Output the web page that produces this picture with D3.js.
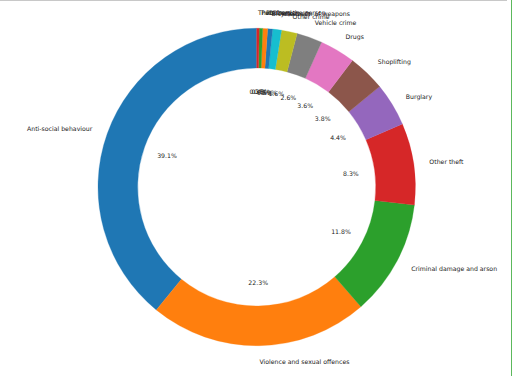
<!DOCTYPE html>
<html>
<head>
<meta charset="utf-8">
<script src="https://cdn.jsdelivr.net/npm/d3@7"></script>
<style>
  html, body { margin: 0; padding: 0; background: #fff; }
  svg { display: block; }
  text { font-family: "DejaVu Sans", sans-serif; font-size: 6.2px; fill: #222; }
</style>
</head>
<body>
<div id="chart"></div>
<script>
// crime categories, in the order they are plotted (from 12 o'clock, counter-clockwise)
var categories = [
  "Anti-social behaviour", "Violence and sexual offences", "Criminal damage and arson",
  "Other theft", "Burglary", "Shoplifting", "Drugs", "Vehicle crime", "Other crime",
  "Possession of weapons", "Bicycle theft", "Robbery", "Public order", "Theft from the person"
];
// share of all crimes, percent
var shares = [39.1, 22.3, 11.8, 8.3, 4.4, 3.8, 3.6, 2.6, 1.6, 0.9, 0.5, 0.5, 0.35, 0.25];
// matplotlib default cycle
var palette = ["#1f77b4", "#ff7f0e", "#2ca02c", "#d62728", "#9467bd",
               "#8c564b", "#e377c2", "#7f7f7f", "#bcbd22", "#17becf"];

var _width = 512, _height = 376;
var cx = 256.7, cy = 187, outerR = 158.7, innerR = outerR * 0.75;

var svg = d3.select("#chart").append("svg")
  .attr("width", _width)
  .attr("height", _height);

// screenshot frame: grey line along the top, green one down the right
svg.append("line").attr("x1", 0).attr("x2", 507).attr("y1", 0.5).attr("y2", 0.5)
  .attr("stroke", "#c8c8c8").attr("stroke-width", 1);
svg.append("line").attr("x1", 511.5).attr("x2", 511.5).attr("y1", 0).attr("y2", _height)
  .attr("stroke", "#5cb85c").attr("stroke-width", 1);

var data = categories.map(function(c, i) { return {name: c, value: shares[i]}; });
var total = d3.sum(shares);

var color = d3.scaleOrdinal().domain(d3.range(categories.length))
  .range(categories.map(function(c, i) { return palette[i % palette.length]; }));

// counter-clockwise from the top, like matplotlib's startangle=90
var pie = d3.pie().sort(null).value(function(d) { return d.value; })
  .startAngle(0).endAngle(-2 * Math.PI);
var arcs = pie(data);

var arc = d3.arc().innerRadius(innerR).outerRadius(outerR);

var g = svg.append("g").attr("transform", "translate(" + cx + "," + cy + ")");

g.selectAll("path.slice")
  .data(arcs)
  .enter().append("path")
  .attr("class", "slice")
  .attr("d", arc)
  .attr("fill", function(d, i) { return color(i); })
  .attr("stroke", function(d, i) { return color(i); })
  .attr("stroke-width", 0.3);

function mid(d) { return (d.startAngle + d.endAngle) / 2; }

// category labels at 1.1 r
g.selectAll("text.label")
  .data(arcs)
  .enter().append("text")
  .attr("class", "label")
  .attr("x", function(d) { return 1.1 * outerR * Math.sin(mid(d)); })
  .attr("y", function(d) { return -1.1 * outerR * Math.cos(mid(d)); })
  .attr("dominant-baseline", "central")
  .attr("text-anchor", function(d) { return Math.sin(mid(d)) > 0 ? "start" : "end"; })
  .text(function(d) { return d.data.name; });

// percentage labels at 0.6 r
var fmt = d3.format(".1f");
g.selectAll("text.pct")
  .data(arcs)
  .enter().append("text")
  .attr("class", "pct")
  .attr("x", function(d) { return 0.6 * outerR * Math.sin(mid(d)); })
  .attr("y", function(d) { return -0.6 * outerR * Math.cos(mid(d)); })
  .attr("dominant-baseline", "central")
  .attr("text-anchor", "middle")
  .text(function(d) { return fmt(d.data.value / total * 100) + "%"; });
</script>
</body>
</html>
